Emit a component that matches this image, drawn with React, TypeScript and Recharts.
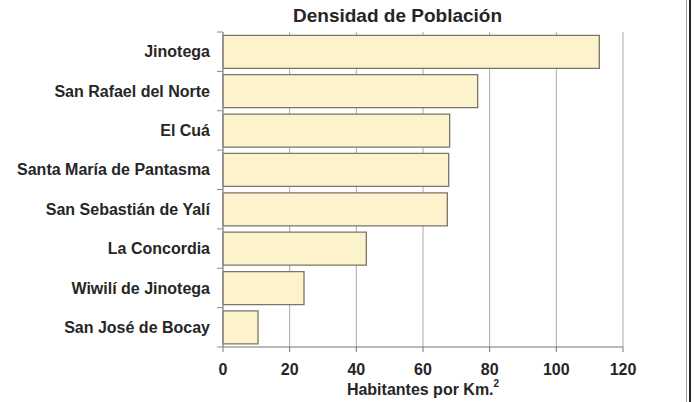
import React from 'react';
import { BarChart, Bar, XAxis, YAxis, CartesianGrid } from 'recharts';

const categories = [
  'Jinotega',
  'San Rafael del Norte',
  'El Cuá',
  'Santa María de Pantasma',
  'San Sebastián de Yalí',
  'La Concordia',
  'Wiwilí de Jinotega',
  'San José de Bocay',
];
const density = [112.9, 76.4, 68.0, 67.7, 67.3, 43.0, 24.3, 10.5];
const xTicks = [0, 20, 40, 60, 80, 100, 120];

const data = categories.map((name, i) => ({ name, value: density[i] }));

const W = 694;
const H = 402;
const M = { top: 32, right: 71, bottom: 0, left: 0 };
const Y_AXIS_W = 223;
const X_AXIS_H = 55;
const PLOT_H = H - M.top - M.bottom - X_AXIS_H;
const BAND = PLOT_H / categories.length;
const AXIS_X = M.left + Y_AXIS_W;
const TICK_SIZE = 6;
const TICK_MARGIN = 7;

const FONT = '"Liberation Sans", Arial, sans-serif';
const TEXT = '#262626';
const GRID = '#a9a9a9';
const AXIS = '#8a8a8a';

const CategoryTick = (props: any) => {
  const { x, y, payload, index } = props;
  return (
    <g>
      {index === 0 && (
        <line x1={AXIS_X - TICK_SIZE} x2={AXIS_X} y1={y - BAND / 2} y2={y - BAND / 2} stroke={AXIS} />
      )}
      <line x1={AXIS_X - TICK_SIZE} x2={AXIS_X} y1={y + BAND / 2} y2={y + BAND / 2} stroke={AXIS} />
      <text
        x={x}
        y={y}
        dy="0.35em"
        textAnchor="end"
        fontFamily={FONT}
        fontWeight="bold"
        fontSize={16}
        fill={TEXT}
      >
        {payload.value}
      </text>
    </g>
  );
};

const XLabel = (props: any) => {
  const { viewBox } = props;
  const cx = viewBox.x + viewBox.width / 2;
  const y = viewBox.y + 48;
  return (
    <text x={cx} y={y} textAnchor="middle" fontFamily={FONT} fontWeight="bold" fontSize={16} fill={TEXT}>
      Habitantes por Km.
      <tspan fontSize={10} dy={-8}>2</tspan>
    </text>
  );
};

export default function App() {
  return (
    <div style={{ position: 'absolute', left: 0, top: 0, width: W, height: H, background: '#ffffff' }}>
      <div
        style={{
          position: 'absolute',
          left: 293,
          top: 5,
          width: 200,
          textAlign: 'center',
          fontFamily: FONT,
          fontWeight: 'bold',
          fontSize: 19,
          color: TEXT,
          whiteSpace: 'nowrap',
        }}
      >
        Densidad de Población
      </div>
      <div style={{ position: 'absolute', left: 686, top: 0, width: 1, height: H, background: '#9a9a9a' }} />
      <div style={{ position: 'absolute', left: 689, top: 0, width: 2, height: H, background: '#222222' }} />
      <BarChart
        width={W}
        height={H}
        data={data}
        layout="vertical"
        margin={M}
        barCategoryGap="8.5%"
      >
        <CartesianGrid horizontal={false} vertical={true} stroke={GRID} />
        <XAxis
          type="number"
          domain={[0, 120]}
          ticks={xTicks}
          interval={0}
          height={X_AXIS_H}
          axisLine={{ stroke: '#777777' }}
          tickLine={{ stroke: '#777777' }}
          tickSize={5}
          tickMargin={12}
          tick={{ fontFamily: FONT, fontWeight: 'bold', fontSize: 16, fill: TEXT }}
          label={<XLabel />}
        />
        <XAxis
          xAxisId="top"
          orientation="top"
          type="number"
          domain={[0, 120]}
          height={0}
          tick={false}
          tickLine={false}
          axisLine={{ stroke: GRID }}
        />
        <YAxis
          type="category"
          dataKey="name"
          width={Y_AXIS_W}
          axisLine={{ stroke: AXIS }}
          tickLine={false}
          tickSize={TICK_SIZE}
          tickMargin={TICK_MARGIN}
          interval={0}
          tick={<CategoryTick />}
        />
        <Bar
          dataKey="value"
          fill="#fcf2cb"
          stroke="#7d7565"
          strokeWidth={1.3}
          isAnimationActive={false}
        />
      </BarChart>
    </div>
  );
}
